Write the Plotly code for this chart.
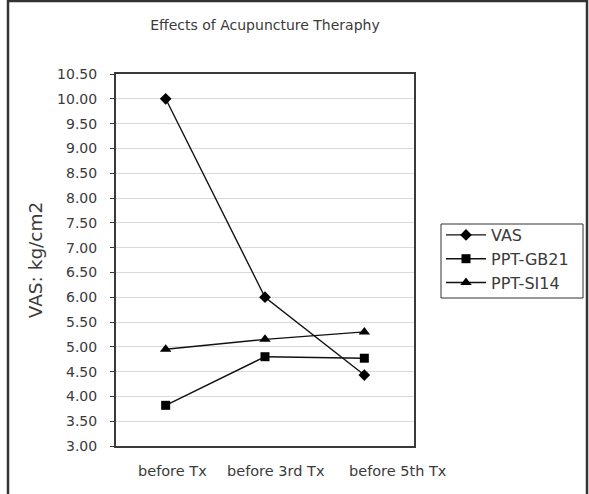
import plotly.graph_objects as go

categories = ["before Tx", "before 3rd Tx", "before 5th Tx"]
vas = [10.00, 6.00, 4.43]
ppt_gb21 = [3.82, 4.80, 4.77]
ppt_si14 = [4.95, 5.15, 5.30]
y_ticks = [3.0, 3.5, 4.0, 4.5, 5.0, 5.5, 6.0, 6.5, 7.0, 7.5, 8.0, 8.5, 9.0, 9.5, 10.0, 10.5]

FONT = "DejaVu Sans"
TXT = "#3a3a3a"

fig = go.Figure()
series = [("VAS", vas, "diamond", 9), ("PPT-GB21", ppt_gb21, "square", 9), ("PPT-SI14", ppt_si14, "triangle-up", 10)]
for name, vals, sym, sz in series:
    fig.add_trace(go.Scatter(
        x=categories, y=vals, name=name, mode="lines+markers",
        line=dict(color="#111111", width=1.4),
        marker=dict(symbol=sym, size=sz, color="#000000"),
    ))

# x tick labels (offsets mimic the original layout)
shifts = [7, 11, 34]
for cat, sh in zip(categories, shifts):
    fig.add_annotation(x=cat, xref="x", y=0, yref="paper", yanchor="top", yshift=-15,
                       xshift=sh, text=cat, showarrow=False,
                       font=dict(family=FONT, size=14.5, color=TXT))

PX0, PW, PY0, PH = 116, 298, 446, 372
def px(x):
    return (x - PX0) / PW
def py(y):
    return (PY0 - y) / PH

# outer frame
fig.add_shape(type="rect", xref="paper", yref="paper",
              x0=px(8), x1=px(587), y0=py(505), y1=py(1),
              line=dict(color="#333333", width=2.5), layer="below")
# legend frame
fig.add_shape(type="rect", xref="paper", yref="paper",
              x0=px(441), x1=px(583), y0=py(298), y1=py(224),
              line=dict(color="#333333", width=1), layer="above")

fig.update_layout(
    width=589, height=494,
    margin=dict(l=116, r=175, t=74, b=48),
    paper_bgcolor="white", plot_bgcolor="white",
    font=dict(family=FONT, size=14, color=TXT),
    title=dict(text="Effects of Acupuncture Theraphy", x=0.5, xref="paper", xanchor="center",
               y=1 - 25 / 494, yref="container", yanchor="middle",
               font=dict(family=FONT, size=14, color=TXT)),
    showlegend=True,
    legend=dict(x=px(441), y=py(218), xanchor="left", yanchor="top",
                borderwidth=0, bgcolor="rgba(0,0,0,0)", itemwidth=40,
                font=dict(family=FONT, size=16, color=TXT), tracegroupgap=0),
)
fig.update_xaxes(type="category", range=[-0.5, 2.5], showticklabels=False, ticks="",
                 showgrid=False, showline=True, mirror=True, linecolor="#3a3a3a", linewidth=2,
                 zeroline=False)
fig.update_yaxes(range=[3, 10.5], tickvals=y_ticks, tickformat=".2f",
                 ticks="outside", ticklen=4, tickcolor="#3a3a3a", ticklabelstandoff=10,
                 showgrid=True, gridcolor="#d9d9d9", gridwidth=1,
                 showline=True, mirror=True, linecolor="#3a3a3a", linewidth=2, zeroline=False,
                 title=dict(text="VAS: kg/cm2", font=dict(family=FONT, size=18.5, color=TXT), standoff=10))

fig.write_html("out.html")
